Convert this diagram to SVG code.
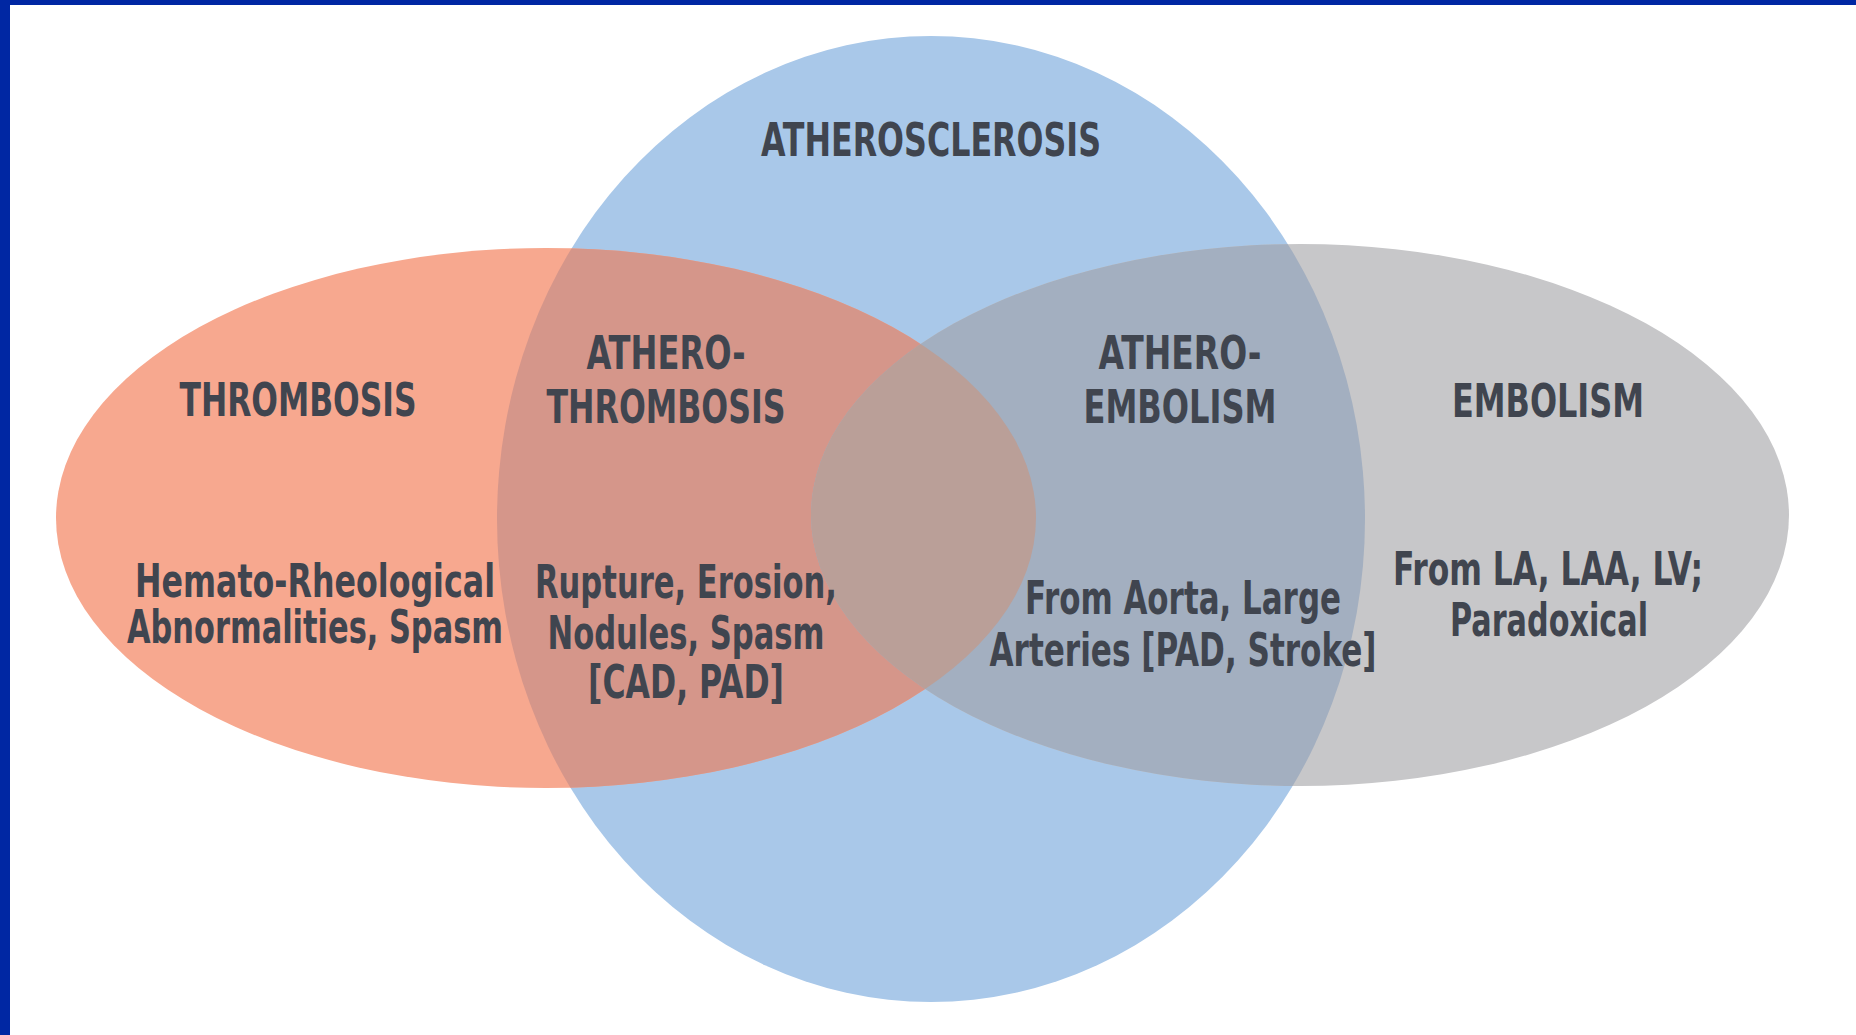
<svg xmlns="http://www.w3.org/2000/svg" width="1856" height="1035" viewBox="0 0 1856 1035">
  <style>
    .t { font-family: "Liberation Sans Narrow", "DejaVu Sans Condensed", "Liberation Sans", sans-serif; font-weight: bold; font-size: 46px; fill: #40454F; text-anchor: middle; }
  </style>
  <defs>
    <clipPath id="clipBlue"><ellipse cx="931" cy="519" rx="434" ry="483"/></clipPath>
    <clipPath id="clipGray"><ellipse cx="1300" cy="515" rx="489" ry="271"/></clipPath>
  </defs>
  <rect x="0" y="0" width="1856" height="1035" fill="#FFFFFF"/>
  <rect x="0" y="0" width="1856" height="5" fill="#0027A3"/>
  <rect x="0" y="0" width="10" height="1035" fill="#0027A3"/>

  <g id="atherosclerosis">
    <ellipse cx="931" cy="519" rx="434" ry="483" fill="#A9C8E9"/>
  </g>
  <g id="thrombosis">
    <ellipse cx="546" cy="518" rx="490" ry="270" fill="#F7A88F"/>
  </g>
  <g id="embolism">
    <ellipse cx="1300" cy="515" rx="489" ry="271" fill="#C7C7C9"/>
  </g>
  <g id="atherothrombosis" clip-path="url(#clipBlue)">
    <ellipse cx="546" cy="518" rx="490" ry="270" fill="#D5968A"/>
  </g>
  <g id="atheroembolism" clip-path="url(#clipBlue)">
    <ellipse cx="1300" cy="515" rx="489" ry="271" fill="#A3AFC0"/>
  </g>
  <g id="center-overlap" clip-path="url(#clipBlue)">
    <g clip-path="url(#clipGray)">
      <ellipse cx="546" cy="518" rx="490" ry="270" fill="#BA9F98"/>
    </g>
  </g>

  <g id="labels">
    <text class="t" x="931" y="156" textLength="340" lengthAdjust="spacingAndGlyphs">ATHEROSCLEROSIS</text>
    <text class="t" x="298" y="416" textLength="237" lengthAdjust="spacingAndGlyphs">THROMBOSIS</text>
    <text class="t" x="315" y="597" textLength="360" lengthAdjust="spacingAndGlyphs">Hemato-Rheological</text>
    <text class="t" x="315" y="643" textLength="376" lengthAdjust="spacingAndGlyphs">Abnormalities, Spasm</text>
    <text class="t" x="666" y="369" textLength="159" lengthAdjust="spacingAndGlyphs">ATHERO-</text>
    <text class="t" x="666" y="423" textLength="239" lengthAdjust="spacingAndGlyphs">THROMBOSIS</text>
    <text class="t" x="686" y="598" textLength="302" lengthAdjust="spacingAndGlyphs">Rupture, Erosion,</text>
    <text class="t" x="686" y="649" textLength="277" lengthAdjust="spacingAndGlyphs">Nodules, Spasm</text>
    <text class="t" x="686" y="698" textLength="196" lengthAdjust="spacingAndGlyphs">[CAD, PAD]</text>
    <text class="t" x="1180" y="369" textLength="163" lengthAdjust="spacingAndGlyphs">ATHERO-</text>
    <text class="t" x="1180" y="423" textLength="193" lengthAdjust="spacingAndGlyphs">EMBOLISM</text>
    <text class="t" x="1183" y="614" textLength="316" lengthAdjust="spacingAndGlyphs">From Aorta, Large</text>
    <text class="t" x="1183" y="666" textLength="387" lengthAdjust="spacingAndGlyphs">Arteries [PAD, Stroke]</text>
    <text class="t" x="1548" y="417" textLength="192" lengthAdjust="spacingAndGlyphs">EMBOLISM</text>
    <text class="t" x="1548" y="585" textLength="310" lengthAdjust="spacingAndGlyphs">From LA, LAA, LV;</text>
    <text class="t" x="1549" y="636" textLength="198" lengthAdjust="spacingAndGlyphs">Paradoxical</text>
  </g>
  <g id="connectors"></g>
</svg>
